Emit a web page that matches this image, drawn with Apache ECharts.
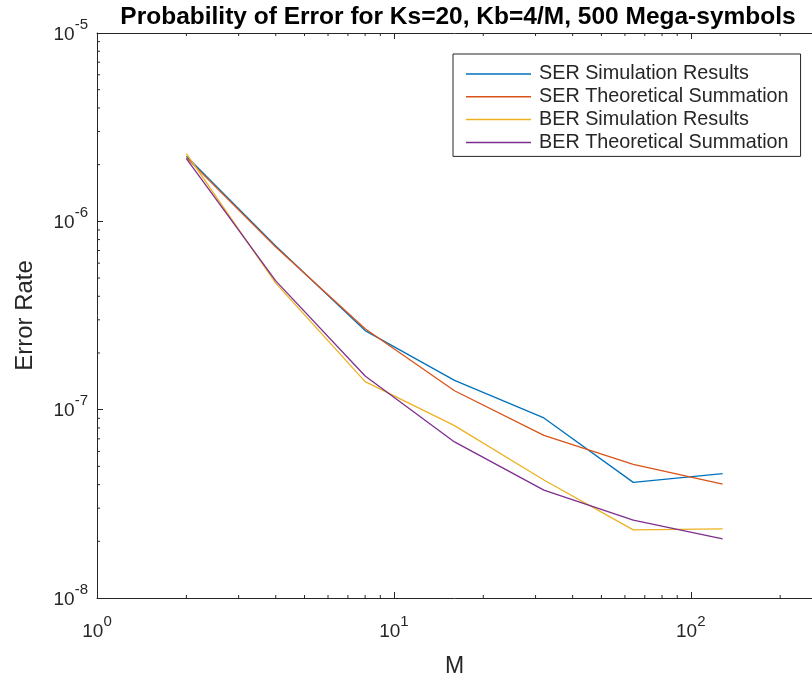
<!DOCTYPE html>
<html><head><meta charset="utf-8">
<script src="https://cdn.jsdelivr.net/npm/echarts@6/dist/echarts.min.js"></script>
<style>html,body{margin:0;padding:0;background:#fff}#c{width:812px;height:683px}</style>
</head><body><div id="c"></div>
<script>
// ---- data ----
const M = [2, 4, 8, 16, 32, 64, 128];
const serSim    = [2.22e-6, 7.4e-7, 2.63e-7, 1.43e-7, 9.04e-8, 4.11e-8, 4.58e-8];
const serTheory = [2.18e-6, 7.3e-7, 2.69e-7, 1.26e-7, 7.31e-8, 5.12e-8, 4.02e-8];
const berSim    = [2.29e-6, 4.70e-7, 1.41e-7, 8.23e-8, 4.23e-8, 2.30e-8, 2.33e-8];
const berTheory = [2.15e-6, 4.83e-7, 1.51e-7, 6.74e-8, 3.74e-8, 2.59e-8, 2.06e-8];
const seriesNames = ['SER Simulation Results', 'SER Theoretical Summation', 'BER Simulation Results', 'BER Theoretical Summation'];
const xMinorTicks = [2,3,4,5,6,7,8,9,20,30,40,50,60,70,80,90,200];
const yMinorTicks = [2e-8,3e-8,4e-8,5e-8,6e-8,7e-8,8e-8,9e-8,2e-7,3e-7,4e-7,5e-7,6e-7,7e-7,8e-7,9e-7,2e-6,3e-6,4e-6,5e-6,6e-6,7e-6,8e-6,9e-6];
const titleText = 'Probability of Error for Ks=20, Kb=4/M, 500 Mega-symbols';
const xName = 'M', yName = 'Error Rate';
const xMin = 1, xMax = 256, yMin = 1e-8, yMax = 1e-5;

// ---- styling ----
const FONT = '"Liberation Sans", Arial, Helvetica, sans-serif';
const AX = '#262626';
const colors = ['#0072BD', '#D95319', '#EDB120', '#7E2F8E'];
const values = [serSim, serTheory, berSim, berTheory];

function powLabel(v) {
  const l = Math.log10(v);
  const e = Math.round(l);
  if (Math.abs(l - e) > 1e-6) return '';
  return '{b|10}{s|' + e + '}';
}
const rich = {
  b: { fontSize: 19, fontFamily: FONT, color: AX, lineHeight: 22, verticalAlign: 'bottom' },
  s: { fontSize: 15, fontFamily: FONT, color: AX, lineHeight: 15, padding: [0, 0, 12, 0], verticalAlign: 'bottom' }
};

const chart = echarts.init(document.getElementById('c'), null, { renderer: 'canvas' });

const lineSeries = seriesNames.map((n, i) => ({
  name: n, type: 'line', xAxisIndex: 0, yAxisIndex: 0,
  data: M.map((m, j) => [m, values[i][j]]),
  symbol: 'none', showSymbol: false,
  lineStyle: { color: colors[i], width: 1.3 },
  itemStyle: { color: colors[i] },
  emphasis: { disabled: true }, animation: false, z: 3
}));

const minorX = {
  type: 'custom', xAxisIndex: 0, yAxisIndex: 0, silent: true, animation: false, clip: false,
  data: xMinorTicks.map(v => [v, yMin]),
  renderItem: (params, api) => {
    const v = api.value(0);
    const b = api.coord([v, yMin]);
    const t = api.coord([v, yMax]);
    return { type: 'group', children: [
      { type: 'line', shape: { x1: b[0], y1: b[1], x2: b[0], y2: b[1] - 3 }, style: { stroke: AX, lineWidth: 1 } },
      { type: 'line', shape: { x1: t[0], y1: t[1], x2: t[0], y2: t[1] + 3 }, style: { stroke: AX, lineWidth: 1 } }
    ]};
  }
};
const minorY = {
  type: 'custom', xAxisIndex: 0, yAxisIndex: 0, silent: true, animation: false, clip: false,
  data: yMinorTicks.map(v => [xMin, v]),
  renderItem: (params, api) => {
    const v = api.value(1);
    const l = api.coord([xMin, v]);
    return { type: 'line', shape: { x1: l[0], y1: l[1], x2: l[0] + 3, y2: l[1] }, style: { stroke: AX, lineWidth: 1 } };
  }
};

const axisCommon = {
  axisLine: { show: true, lineStyle: { color: AX, width: 1 } },
  axisTick: { show: true, inside: true, length: 6, lineStyle: { color: AX, width: 1 } },
  splitLine: { show: false }, minorTick: { show: false }
};

chart.setOption({
  animation: false,
  backgroundColor: '#fff',
  title: {
    text: titleText, left: 453, top: 0, textAlign: 'center',
    textStyle: { fontFamily: FONT, fontSize: 24.5, fontWeight: 'bold', color: '#000' }
  },
  grid: { left: 97, top: 33, width: 724, height: 567, containLabel: false },
  legend: {
    data: seriesNames, orient: 'vertical', left: 453, top: 54,
    icon: 'rect',
    padding: [10, 12, 4, 13], itemGap: 2.8, itemWidth: 65, itemHeight: 1.5,
    borderColor: AX, borderWidth: 1, backgroundColor: '#fff',
    selectedMode: false,
    textStyle: { fontFamily: FONT, fontSize: 19.8, color: AX, lineHeight: 20, padding: [0, 0, 0, 3] }
  },
  xAxis: [
    Object.assign({
      type: 'log', logBase: 10, min: xMin, max: xMax, position: 'bottom',
      name: xName, nameLocation: 'middle', nameGap: 57,
      nameTextStyle: { fontFamily: FONT, fontSize: 23, color: AX },
      axisLabel: { show: true, formatter: powLabel, rich: rich, margin: 21, showMaxLabel: false }
    }, axisCommon),
    Object.assign({
      type: 'log', logBase: 10, min: xMin, max: xMax, position: 'top',
      axisLabel: { show: false }
    }, axisCommon)
  ],
  yAxis: [
    Object.assign({
      type: 'log', logBase: 10, min: yMin, max: yMax, position: 'left',
      name: yName, nameLocation: 'middle', nameGap: 60,
      nameTextStyle: { fontFamily: FONT, fontSize: 24, color: AX },
      axisLabel: { show: true, formatter: powLabel, rich: rich, margin: 9 }
    }, axisCommon)
  ],
  series: lineSeries.concat([minorX, minorY])
});
</script>
</body></html>
